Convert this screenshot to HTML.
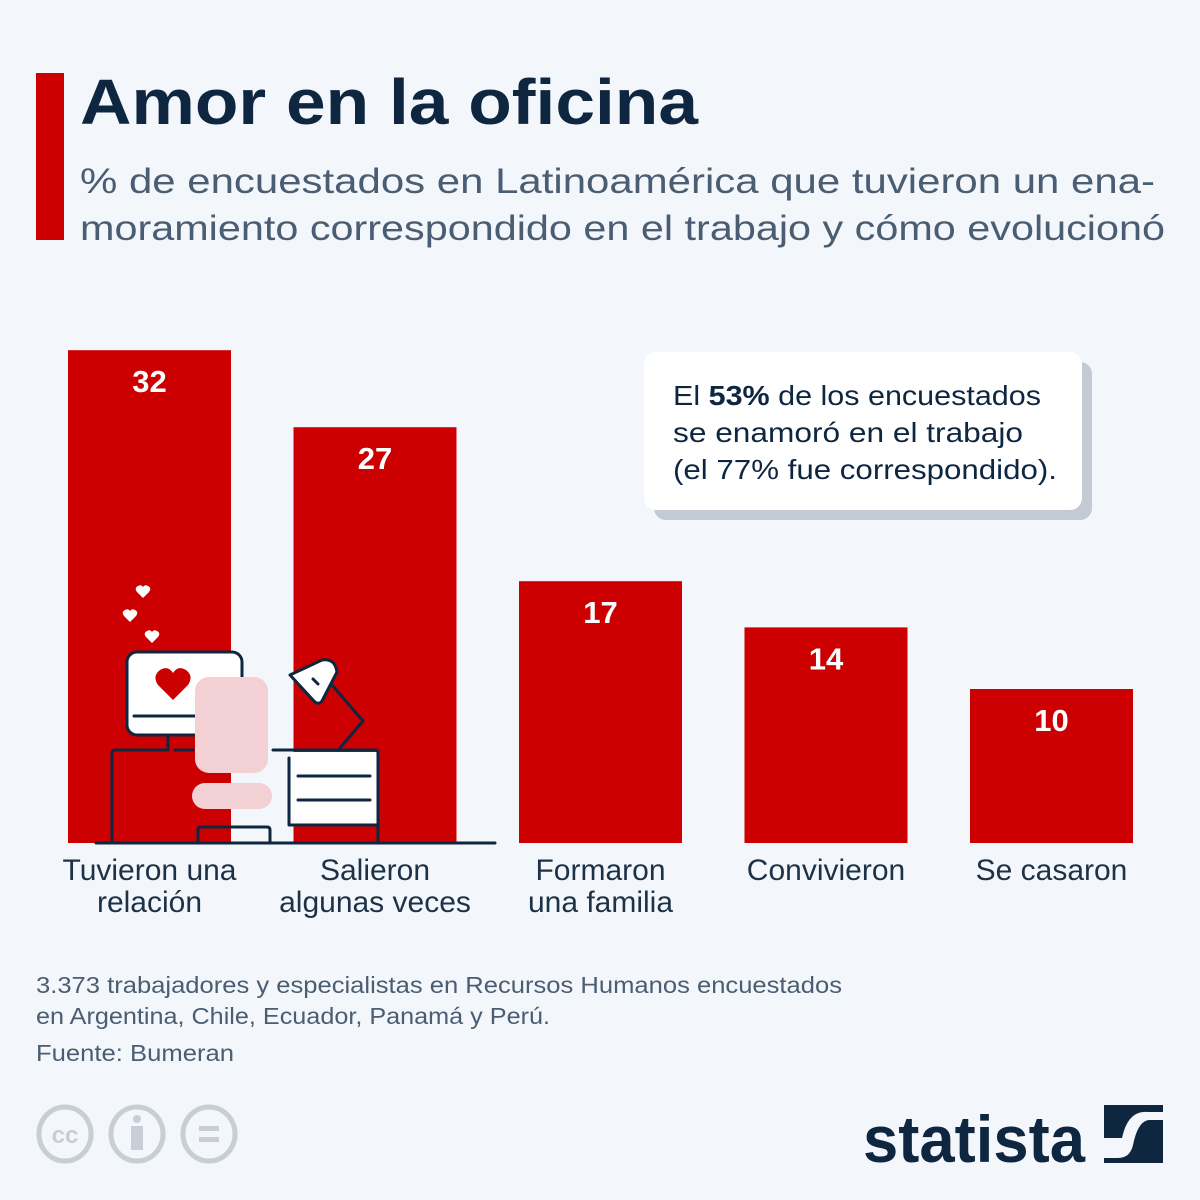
<!DOCTYPE html>
<html><head><meta charset="utf-8"><style>
html,body{margin:0;padding:0;background:#f3f7fb;}
svg{display:block;font-family:"Liberation Sans",sans-serif;}
</style></head><body>
<svg id="chart" width="1200" height="1200" viewBox="0 0 1200 1200">
<rect width="1200" height="1200" fill="#f3f7fb"/>
<rect x="36" y="73" width="28" height="167" fill="#cc0000"/>
<text x="80" y="124" font-size="64" font-weight="bold" fill="#0f2640" textLength="618" lengthAdjust="spacingAndGlyphs">Amor en la oficina</text>
<text x="80" y="193" font-size="35" fill="#4a5d72" textLength="1075" lengthAdjust="spacingAndGlyphs">% de encuestados en Latinoamérica que tuvieron un ena-</text>
<text x="80" y="240" font-size="35" fill="#4a5d72" textLength="1085" lengthAdjust="spacingAndGlyphs">moramiento correspondido en el trabajo y cómo evolucionó</text>
<g id="bars"></g>
<g id="labels"></g>
<g stroke="#0f2640" stroke-width="3" stroke-linecap="round" stroke-linejoin="round">
  <line x1="96" y1="843" x2="495" y2="843"/>
  <path d="M112 843 V753 Q112 750 115 750 H168 V735" fill="none"/>
  <line x1="175" y1="750" x2="193" y2="750"/>
  <rect x="127" y="652" width="115" height="83" rx="10" fill="#fff"/>
  <path d="M173 700 L158 685 Q152 676 160 670 Q168 665 173 673 Q178 665 186 670 Q194 676 188 685 Z" fill="#cc0000" stroke="none"/>
  <line x1="134" y1="716" x2="196" y2="716"/>
  <rect x="195" y="677" width="73" height="96" rx="14" fill="#f2d0d3" stroke="none"/>
  <rect x="192" y="783" width="80" height="26" rx="13" fill="#f2d0d3" stroke="none"/>
  <path d="M198 843 V830 Q198 827 201 827 H267 Q270 827 270 830 V843" fill="none"/>
  <line x1="273" y1="750" x2="375" y2="750"/>
  <rect x="291" y="752" width="86" height="73" fill="#fff" stroke="none"/>
  <path d="M289 758 V825 H377 M375 750 Q378 750 378 753 V843" fill="none"/>
  <line x1="298" y1="776" x2="370" y2="776"/>
  <line x1="298" y1="800" x2="370" y2="800"/>
  <path d="M340 748 L363 721 L332 685" fill="none"/>
  <path d="M290 675 L322 660 Q335 658 337 672 L322 701 Q318 706 313 700 Z" fill="#fff"/>
  <line x1="313" y1="679" x2="318" y2="684"/>
  <g fill="#fff" stroke="none">
   <path d="M143 598 l-6 -6 q-3 -4 1 -6 q3 -2 5 1 q2 -3 5 -1 q4 2 1 6 z"/>
   <path d="M130 622 l-6 -6 q-3 -4 1 -6 q3 -2 5 1 q2 -3 5 -1 q4 2 1 6 z"/>
   <path d="M152 643 l-6 -6 q-3 -4 1 -6 q3 -2 5 1 q2 -3 5 -1 q4 2 1 6 z"/>
  </g>
</g>
<g>
  <rect x="654" y="362" width="438" height="158" rx="12" fill="#c3cad4"/>
  <rect x="644" y="352" width="438" height="158" rx="12" fill="#fff"/>
  <text x="673" y="405" font-size="28" fill="#0f2640" textLength="368" lengthAdjust="spacingAndGlyphs">El <tspan font-weight="bold">53%</tspan> de los encuestados</text>
  <text x="673" y="442" font-size="28" fill="#0f2640" textLength="350" lengthAdjust="spacingAndGlyphs">se enamoró en el trabajo</text>
  <text x="673" y="479" font-size="28" fill="#0f2640" textLength="384" lengthAdjust="spacingAndGlyphs">(el 77% fue correspondido).</text>
</g>
<text x="36" y="993" font-size="23" fill="#4a5d72" textLength="806" lengthAdjust="spacingAndGlyphs">3.373 trabajadores y especialistas en Recursos Humanos encuestados</text>
<text x="36" y="1024" font-size="23" fill="#4a5d72" textLength="514" lengthAdjust="spacingAndGlyphs">en Argentina, Chile, Ecuador, Panamá y Perú.</text>
<text x="36" y="1061" font-size="23" fill="#4a5d72" textLength="198" lengthAdjust="spacingAndGlyphs">Fuente: Bumeran</text>
<g fill="none" stroke="#c7ced6" stroke-width="5">
  <ellipse cx="65" cy="1134" rx="26" ry="27"/>
  <text x="65" y="1143" font-size="24" font-weight="bold" fill="#c7ced6" stroke="none" text-anchor="middle">cc</text>
  <ellipse cx="137" cy="1134" rx="26" ry="27"/>
  <circle cx="137" cy="1119" r="4" fill="#c7ced6" stroke="none"/>
  <rect x="131" y="1126" width="12" height="24" fill="#c7ced6" stroke="none"/>
  <ellipse cx="209" cy="1134" rx="26" ry="27"/>
  <rect x="199" y="1126" width="20" height="5" fill="#c7ced6" stroke="none"/>
  <rect x="199" y="1137" width="20" height="5" fill="#c7ced6" stroke="none"/>
</g>
<g>
  <text x="863" y="1162" font-size="66" font-weight="bold" fill="#0f2640" textLength="222" lengthAdjust="spacingAndGlyphs">statista</text>
  <rect x="1104" y="1105" width="59" height="58" fill="#0f2640"/>
  <path d="M1104 1138 H1122 Q1128 1110 1148 1112 H1163 V1120 H1150 Q1138 1120 1133 1145 Q1130 1158 1118 1158 H1104 Z" fill="#f3f7fb"/>
</g>
</svg>
<script>
const categories = ["Tuvieron una|relación","Salieron|algunas veces","Formaron|una familia","Convivieron","Se casaron"];
const values = [32, 27, 17, 14, 10];
const valueLabels = ["32","27","17","14","10"];
const NS = "http://www.w3.org/2000/svg";
const baseY = 843, pxPerUnit = 15.4;
const x0 = 68, step = 225.5, bw = 163;
function yScale(v){ return baseY - v * pxPerUnit; }
function xScale(i){ return x0 + i * step; }
const barsG = document.getElementById('bars');
const labelsG = document.getElementById('labels');
values.forEach((v, i) => {
  const r = document.createElementNS(NS, 'rect');
  r.setAttribute('x', xScale(i));
  r.setAttribute('y', yScale(v));
  r.setAttribute('width', bw);
  r.setAttribute('height', baseY - yScale(v));
  r.setAttribute('fill', '#cc0000');
  
  
  barsG.appendChild(r);
  const t = document.createElementNS(NS, 'text');
  t.setAttribute('x', xScale(i) + bw / 2);
  t.setAttribute('y', yScale(v) + 42);
  t.setAttribute('text-anchor', 'middle');
  t.setAttribute('font-size', '31');
  t.setAttribute('font-weight', 'bold');
  t.setAttribute('fill', '#fff');
  t.textContent = valueLabels[i];
  
  
  labelsG.appendChild(t);
  categories[i].split('|').forEach((line, j) => {
    const c = document.createElementNS(NS, 'text');
    c.setAttribute('x', xScale(i) + bw / 2);
    c.setAttribute('y', 880 + j * 32);
    c.setAttribute('text-anchor', 'middle');
    c.setAttribute('font-size', '30');
    c.setAttribute('fill', '#1d3147');
    c.textContent = line;
    
    
    labelsG.appendChild(c);
  });
});
</script>
</body></html>
